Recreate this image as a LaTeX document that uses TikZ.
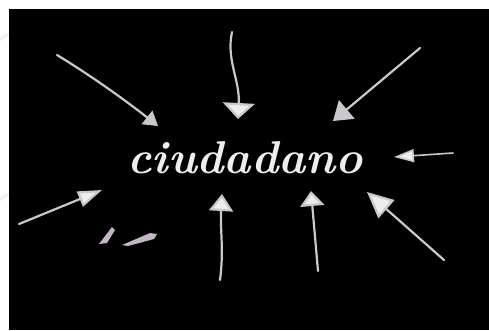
\documentclass[tikz,border=0pt]{standalone}
\usetikzlibrary{arrows.meta}
\begin{document}
\begin{tikzpicture}[x=1pt,y=-1pt,
  stroke/.style={draw=chalk,line width=2.2pt,line cap=round},
  word/.style={text=chalkw,font=\fontsize{46}{50}\selectfont\bfseries\itshape,inner sep=0pt}]
\definecolor{chalk}{HTML}{C9C9CC}
\definecolor{chalkw}{HTML}{EDEDED}
\useasboundingbox (0,0) rectangle (489,330);
\fill[white] (0,0) rectangle (489,330);
\draw[gray!12,line width=3pt] (0,40) .. controls (4,36) .. (9,34);
\draw[gray!12,line width=3pt] (0,200) .. controls (4,196) .. (9,194);
\fill[black] (9,9) rectangle (489,330);
\node[word,anchor=base,xscale=1.0] (w) at (245,173) {ciudadano};
% named end points
\coordinate (t1) at (57,55);   \coordinate (h1) at (158,126);
\coordinate (t2) at (232,32);  \coordinate (h2) at (238,119);
\coordinate (t3) at (420,48);  \coordinate (h3) at (333,121);
\coordinate (t4) at (453,153); \coordinate (h4) at (394,157);
\coordinate (t5) at (19,224);  \coordinate (h5) at (102,190);
\coordinate (t7) at (220,280); \coordinate (h7) at (222,194);
\coordinate (t8) at (318,271); \coordinate (h8) at (311,191);
\coordinate (t9) at (444,260); \coordinate (h9) at (367,192);
\draw[stroke,-{Triangle[width=17pt,length=14pt,fill=chalk]}] (t1) .. controls (90,75) and (125,100) .. (h1);
\draw[stroke,-{Triangle[width=32pt,length=16pt,fill=chalkw]}] (t2) .. controls (226,60) and (240,80) .. (h2);
\draw[stroke,-{Triangle[width=24pt,length=18pt,fill=chalk]}] (t3) -- (h3);
\draw[stroke,line width=1.6pt,-{Triangle[width=13pt,length=20pt,fill=chalkw]}] (t4) -- (h4);
\draw[stroke,-{Triangle[width=16pt,length=24pt,fill=chalkw]}] (t5) -- (h5);
\draw[stroke,-{Triangle[width=24pt,length=17pt,fill=chalkw]}] (t7) .. controls (224,250) and (220,230) .. (h7);
\draw[stroke,-{Triangle[width=24pt,length=15pt,fill=chalkw]}] (t8) -- (h8);
\draw[stroke,-{Triangle[width=24pt,length=26pt,fill=chalkw]}] (t9) -- (h9);
% fragment
\fill[chalk!90!violet] (99,244) -- (112,227) -- (115,230) -- (107,243) -- cycle;
\fill[chalk!90!violet] (122,245) -- (150,233) -- (157,234) -- (154,239) -- (128,246) -- cycle;
\end{tikzpicture}
\end{document}
